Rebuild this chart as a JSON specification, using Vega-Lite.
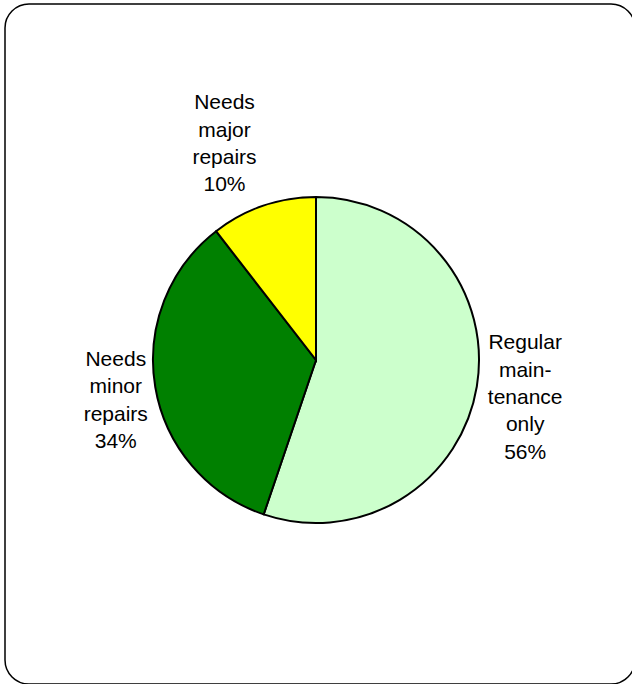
{
  "$schema": "https://vega.github.io/schema/vega-lite/v6.json",
  "width": 630,
  "height": 680,
  "autosize": {"type": "none"},
  "padding": {"left": 5, "top": 4, "right": 0, "bottom": 0},
  "background": "white",
  "view": {"stroke": "black", "strokeWidth": 1.5, "cornerRadius": 24, "fill": "white"},
  "config": {"view": {"stroke": "black", "strokeWidth": 1.5, "cornerRadius": 24}},
  "data": {
    "values": [
      {"category": "Regular maintenance only", "label": "Regular\nmain-\ntenance\nonly\n56%", "value": 55.2, "rank": 1},
      {"category": "Needs minor repairs", "label": "Needs\nminor\nrepairs\n34%", "value": 34.3, "rank": 2},
      {"category": "Needs major repairs", "label": "Needs\nmajor\nrepairs\n10%", "value": 10.5, "rank": 3}
    ]
  },
  "encoding": {
    "theta": {"field": "value", "type": "quantitative", "stack": true},
    "order": {"field": "rank", "type": "quantitative"},
    "detail": {"field": "category", "type": "nominal"}
  },
  "layer": [
    {
      "mark": {"type": "arc", "outerRadius": 163, "stroke": "black", "strokeWidth": 2, "xOffset": -4, "yOffset": 16},
      "encoding": {
        "color": {
          "field": "category",
          "type": "nominal",
          "scale": {
            "domain": ["Regular maintenance only", "Needs minor repairs", "Needs major repairs"],
            "range": ["#CCFFCC", "#008000", "#FFFF00"]
          },
          "legend": null
        }
      }
    },
    {
      "mark": {"type": "text", "radius": 212, "xOffset": -4, "yOffset": 16, "dy": -51, "lineBreak": "\n", "lineHeight": 27.3, "font": "Liberation Sans", "fontSize": 21, "color": "black", "align": "center", "baseline": "middle"},
      "encoding": {
        "text": {"condition": {"test": "datum.category === 'Regular maintenance only'", "field": "label"}, "value": ""}
      }
    },
    {
      "mark": {"type": "text", "radius": 200, "xOffset": -4, "yOffset": 16, "dy": -33, "dx": -3, "lineBreak": "\n", "lineHeight": 27.3, "font": "Liberation Sans", "fontSize": 21, "color": "black", "align": "center", "baseline": "middle"},
      "encoding": {
        "text": {"condition": {"test": "datum.category === 'Needs minor repairs'", "field": "label"}, "value": ""}
      }
    },
    {
      "mark": {"type": "text", "radius": 230, "xOffset": -4, "yOffset": 16, "dy": -39, "dx": -17, "lineBreak": "\n", "lineHeight": 27.3, "font": "Liberation Sans", "fontSize": 21, "color": "black", "align": "center", "baseline": "middle"},
      "encoding": {
        "text": {"condition": {"test": "datum.category === 'Needs major repairs'", "field": "label"}, "value": ""}
      }
    }
  ]
}
